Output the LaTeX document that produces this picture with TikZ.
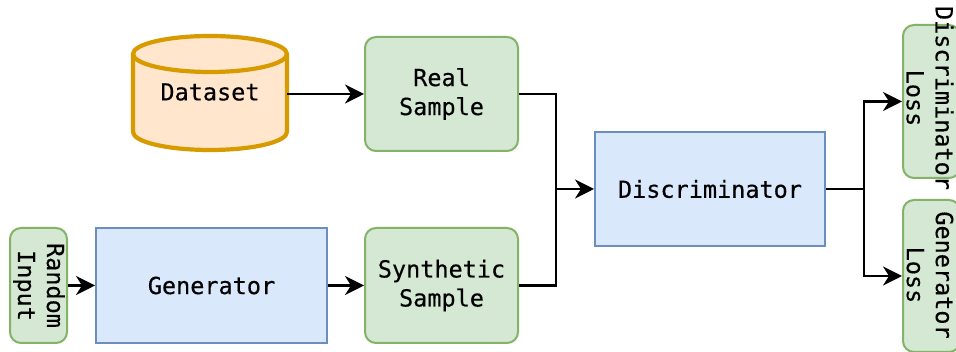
\documentclass[tikz,border=0pt]{standalone}
\usepackage{fontspec}
\newfontfamily\diagfont[FakeBold=0.4]{DejaVu Sans Mono}
\usetikzlibrary{arrows.meta}
\definecolor{greenfill}{HTML}{D5E8D4}
\definecolor{greenline}{HTML}{82B366}
\definecolor{bluefill}{HTML}{DAE8FC}
\definecolor{blueline}{HTML}{6C8EBF}
\definecolor{orangefill}{HTML}{FFE6CC}
\definecolor{orangeline}{HTML}{D79B00}
\begin{document}
\begin{tikzpicture}[x=1pt,y=1pt,
  every node/.style={font=\diagfont\fontsize{23.5}{29}\selectfont, align=center, inner sep=0pt},
  greenbox/.style={draw=greenline, fill=greenfill, line width=2pt, rounded corners=11pt},
  bluebox/.style={draw=blueline, fill=bluefill, line width=2pt},
  wire/.style={draw=black, line width=2.2pt},
  conn/.style={wire, -{Stealth[length=19pt,width=19pt,inset=6pt]}}
]
\useasboundingbox (0,0) rectangle (956,352);

% data source cylinder
\filldraw[draw=orangeline, fill=orangefill, line width=4.2pt]
  (133,298) -- (133,220) arc (180:360:77 and 18) -- (287,298) arc (0:180:77 and 18) -- cycle;
\draw[draw=orangeline, line width=4.2pt] (133,298) arc (180:360:77 and 18);
\node[minimum width=154pt, minimum height=114pt] (dataset) at (210,258) {};
\node at (210,260) {Dataset};

% main blocks
\node[greenbox, minimum width=153pt, minimum height=114pt] (real) at (441.5,258) {Real\\Sample};
\node[bluebox, minimum width=230pt, minimum height=114pt] (disc) at (710,163) {Discriminator};
\node[greenbox, minimum width=57pt, minimum height=115pt] (rand) at (38.5,66.5) {};
\node[rotate=-90] at (39,66.5) {Random\\Input};
\node[bluebox, minimum width=231pt, minimum height=115pt] (gen) at (211.5,66.5) {Generator};
\node[greenbox, minimum width=153pt, minimum height=115pt] (synth) at (441.5,66.5) {Synthetic\\Sample};

% loss outputs
\node[greenbox, minimum width=57pt, minimum height=153pt] (dloss) at (931.5,250.5) {};
\node[rotate=-90] at (930,254) {Discriminator\\Loss};
\node[greenbox, minimum width=57pt, minimum height=152pt] (gloss) at (931.5,76) {};
\node[rotate=-90] at (930,77) {Generator\\Loss};

% connectors
\coordinate (joinL) at (556,163);
\coordinate (joinR) at (864,163);
\draw[conn] (dataset.east) -- (real.west);
\draw[conn] (rand.east) -- (gen.west);
\draw[conn] (gen.east) -- (synth.west);
\draw[wire] (real.east) -| (joinL);
\draw[wire] (synth.east) -| (joinL);
\draw[conn] (joinL) -- (disc.west);
\draw[wire] (disc.east) -- (joinR);
\draw[conn] (joinR) |- (dloss.west);
\draw[conn] (joinR) |- (gloss.west);
\end{tikzpicture}
\end{document}
